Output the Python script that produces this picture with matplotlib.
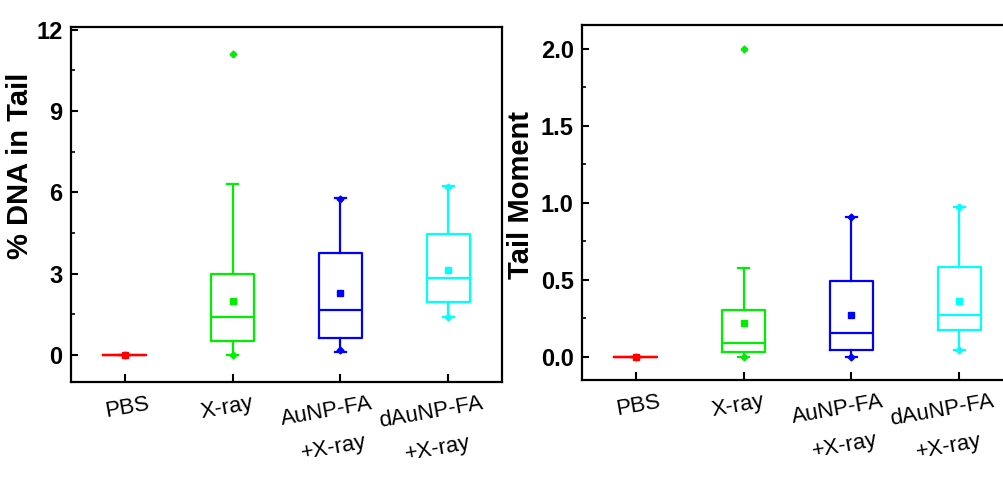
"""
Comet assay box plots: % DNA in tail and tail moment per treatment group
"""
import numpy as np
import matplotlib
matplotlib.use("Agg")
import matplotlib.pyplot as plt
import matplotlib.transforms as mtransforms
from matplotlib.ticker import MultipleLocator, AutoMinorLocator

plt.rcParams['font.family'] = ['Liberation Sans', 'DejaVu Sans']

groups = ['PBS', 'X-ray', 'AuNP-FA\n+X-ray', 'dAuNP-FA\n+X-ray']
colors = ['#ff0000', '#00ee00', '#0000ff', '#00ffff']

# % DNA in tail
dna_q1 = [0.0, 0.5, 0.63, 1.97]
dna_med = [0.0, 1.4, 1.67, 2.85]
dna_q3 = [0.0, 3.0, 3.78, 4.48]
dna_whislo = [0.0, 0.0, 0.1, 1.4]
dna_whishi = [0.0, 6.3, 5.78, 6.22]
dna_mean = [0.0, 2.0, 2.27, 3.15]
dna_extremes = [[0.0], [11.1, 0.0], [5.75, 0.2], [6.2, 1.4]]

# tail moment
tm_q1 = [0.0, 0.03, 0.045, 0.175]
tm_med = [0.0, 0.09, 0.157, 0.27]
tm_q3 = [0.0, 0.305, 0.49, 0.585]
tm_whislo = [0.0, 0.0, 0.0, 0.045]
tm_whishi = [0.0, 0.58, 0.91, 0.97]
tm_mean = [0.0, 0.22, 0.27, 0.36]
tm_extremes = [[0.0], [2.0, 0.0], [0.91, 0.0], [0.97, 0.045]]

# small horizontal nudge of the slanted x labels (pixels)
label_shift = [2, -6, -10, -14]


def make_stats(q1, med, q3, lo, hi, mean, extremes):
    stats = []
    for i in range(len(q1)):
        stats.append(dict(q1=q1[i], med=med[i], q3=q3[i], whislo=lo[i],
                          whishi=hi[i], mean=mean[i], fliers=extremes[i]))
    return stats


def draw_panel(fig, ax, stats, ylabel, ylim, major, label_coords, fmt):
    positions = np.arange(1, len(groups) + 1)
    for i, st in enumerate(stats):
        c = colors[i]
        ax.bxp([st], positions=[positions[i]], widths=0.4, showmeans=True,
               showfliers=True, capwidths=0.1, patch_artist=False,
               boxprops=dict(color=c, linewidth=1.6),
               whiskerprops=dict(color=c, linewidth=1.6),
               capprops=dict(color=c, linewidth=1.6),
               medianprops=dict(color=c, linewidth=1.6),
               meanprops=dict(marker='s', markerfacecolor=c, markeredgecolor=c,
                              markersize=4),
               flierprops=dict(marker='D', markerfacecolor=c, markeredgecolor=c,
                               markersize=3.5))
    ax.set_xlim(0.5, 4.5)
    ax.set_ylim(*ylim)
    ax.set_xticks(positions)
    ax.yaxis.set_major_locator(MultipleLocator(major))
    ax.yaxis.set_minor_locator(AutoMinorLocator(2))
    ax.yaxis.set_major_formatter(plt.FormatStrFormatter(fmt))
    ax.tick_params(axis='y', which='major', direction='in', length=5, width=1.5,
                   labelsize=17, pad=6)
    ax.tick_params(axis='y', which='minor', direction='in', length=3, width=1.2)
    ax.tick_params(axis='x', which='major', direction='in', length=6, width=1.5,
                   pad=8)
    ax.set_xticklabels(groups, rotation=10, fontsize=16, linespacing=2.0)
    # nudge after tick_params, which would reset the label transforms
    for lab, dx in zip(ax.get_xticklabels(), label_shift):
        off = mtransforms.ScaledTranslation(dx / 100, 0, fig.dpi_scale_trans)
        lab.set_transform(lab.get_transform() + off)
    for lab in ax.get_yticklabels():
        lab.set_fontweight('bold')
    for sp in ax.spines.values():
        sp.set_linewidth(1.6)
    ax.set_ylabel(ylabel, fontsize=21, fontweight='bold')
    ax.yaxis.set_label_coords(*label_coords)


fig = plt.figure(figsize=(10.04, 4.83), dpi=100)
ax1 = fig.add_axes([0.0707, 0.209, 0.4293, 0.735])
ax2 = fig.add_axes([0.5797, 0.2133, 0.4293, 0.735])

draw_panel(fig, ax1, make_stats(dna_q1, dna_med, dna_q3, dna_whislo, dna_whishi,
                                dna_mean, dna_extremes),
           '% DNA in Tail', (-1.0, 12.1), 3, (-0.085, 0.61), '%d')
draw_panel(fig, ax2, make_stats(tm_q1, tm_med, tm_q3, tm_whislo, tm_whishi,
                                tm_mean, tm_extremes),
           'Tail Moment', (-0.15, 2.155), 0.5, (-0.11, 0.52), '%.1f')

fig.savefig('out.png', dpi=100)
